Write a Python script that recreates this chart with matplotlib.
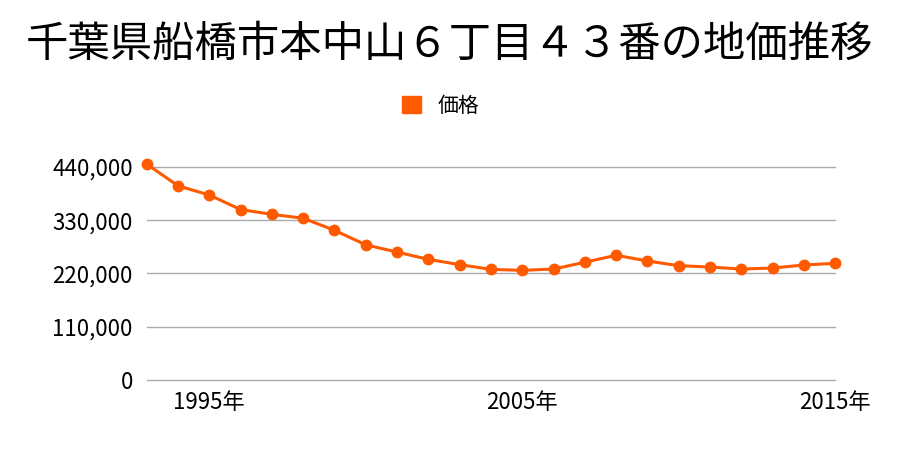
import matplotlib
matplotlib.use('Agg')
import matplotlib.pyplot as plt
from matplotlib.ticker import FuncFormatter
from matplotlib.patches import Patch

plt.rcParams['font.family'] = ['Noto Sans CJK JP', 'DejaVu Sans']

title = '千葉県船橋市本中山６丁目４３番の地価推移'
series_name = '価格'
years = list(range(1993, 2016))
prices = [446000, 401000, 382000, 352000, 342000, 334000, 309000, 279000,
          264000, 249000, 238000, 228300, 226200, 229000, 243000, 257400,
          245600, 235900, 233100, 229000, 231000, 237300, 240800]
y_ticks = [0, 110000, 220000, 330000, 440000]
x_ticks = [1995, 2005, 2015]
x_labels = ['1995年', '2005年', '2015年']

orange = '#ff5a00'

fig = plt.figure(figsize=(9, 4.5), dpi=100)
ax = fig.add_axes([0.163, 0.156, 0.765, 0.473])

ax.plot(years, prices, color=orange, lw=2.2, marker='o', ms=7.5,
        clip_on=False, zorder=3)

ax.set_xlim(years[0], years[-1])
ax.set_ylim(0, 440000)
ax.set_yticks(y_ticks)
ax.yaxis.set_major_formatter(FuncFormatter(lambda v, p: f'{int(v):,}'))
ax.set_xticks(x_ticks)
ax.set_xticklabels(x_labels)
ax.grid(axis='y', color='#aaaaaa', lw=1)
for gl in ax.get_ygridlines():
    gl.set_clip_on(False)
ax.set_axisbelow(True)
for s in ax.spines.values():
    s.set_visible(False)
ax.tick_params(length=0, labelsize=16, pad=10)
ax.tick_params(axis='x', pad=8)

fig.text(0.5, 0.9, title, ha='center', va='center', fontsize=30.5)

# legend shows a square patch, not a line
fig.legend(handles=[Patch(color=orange, label=series_name)], loc='center',
           bbox_to_anchor=(0.49, 0.765), frameon=False, fontsize=15,
           handlelength=0.9, handleheight=0.9, handletextpad=0.8)

fig.savefig('out.png', dpi=100)
